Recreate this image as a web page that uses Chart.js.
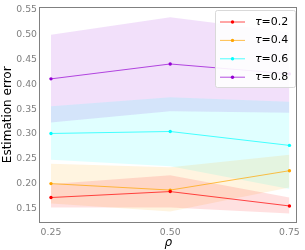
<!DOCTYPE html>
<html>
<head>
<meta charset="utf-8">
<script src="https://cdn.jsdelivr.net/npm/chart.js@4.4.1/dist/chart.umd.min.js"></script>
<style>
  html, body { margin: 0; padding: 0; background: #fff; }
</style>
</head>
<body>
<canvas id="chart" width="305" height="250"></canvas>
<script>
// data
const rho = [0.25, 0.5, 0.75];
const xTicks = [0.25, 0.5, 0.75];
const yTicks = [0.15, 0.2, 0.25, 0.3, 0.35, 0.4, 0.45, 0.5, 0.55];
const tauLabels = ["0.2", "0.4", "0.6", "0.8"];

const err02 = [0.172, 0.184, 0.155];
const err04 = [0.200, 0.187, 0.226];
const err06 = [0.301, 0.305, 0.277];
const err08 = [0.411, 0.441, 0.421];

const lo02 = [0.152, 0.152, 0.140];
const hi02 = [0.199, 0.217, 0.172];
const lo04 = [0.160, 0.144, 0.192];
const hi04 = [0.240, 0.233, 0.258];
const lo06 = [0.248, 0.235, 0.189];
const hi06 = [0.356, 0.374, 0.365];
const lo08 = [0.323, 0.346, 0.343];
const hi08 = [0.500, 0.535, 0.505];

const colors = [[255, 0, 0], [255, 165, 0], [0, 255, 255], [148, 0, 211]];
const means = [err02, err04, err06, err08];
const lows = [lo02, lo04, lo06, lo08];
const highs = [hi02, hi04, hi06, hi08];

const rgba = (c, a) => `rgba(${c[0]},${c[1]},${c[2]},${a})`;
const pts = arr => arr.map((v, i) => ({ x: rho[i], y: v }));
const FONT = "'DejaVu Sans', sans-serif";

const datasets = [];
means.forEach((m, k) => {
  const c = colors[k];
  const upIdx = datasets.length;
  datasets.push({
    band: true, data: pts(highs[k]), borderWidth: 0, pointRadius: 0,
    backgroundColor: rgba(c, 0.12), fill: false, order: 2
  });
  datasets.push({
    band: true, data: pts(lows[k]), borderWidth: 0, pointRadius: 0,
    backgroundColor: rgba(c, 0.12), fill: { target: upIdx }, order: 2
  });
});
means.forEach((m, k) => {
  const c = colors[k];
  datasets.push({
    label: tauLabels[k], data: pts(m), borderColor: rgba(c, 0.7), borderWidth: 1,
    pointRadius: 1.7, pointBackgroundColor: rgba(c, 1), pointBorderWidth: 0,
    fill: false, order: 1
  });
});

const framePlugin = {
  id: "frameLegend",
  afterDraw(chart) {
    const { ctx, chartArea: a } = chart;
    ctx.save();
    ctx.strokeStyle = "#808080";
    ctx.lineWidth = 1;
    const x0 = Math.floor(a.left) + 0.5, x1 = Math.floor(a.right) - 0.5;
    const y0 = Math.floor(a.top) + 0.5, y1 = Math.floor(a.bottom) + 0.5;
    ctx.strokeRect(x0, y0, x1 - x0, y1 - y0);

    // legend box in the upper right
    const bx = 215.5, by = 10.5, bw = 80, bh = 77, r = 2;
    ctx.beginPath();
    ctx.moveTo(bx + r, by);
    ctx.arcTo(bx + bw, by, bx + bw, by + bh, r);
    ctx.arcTo(bx + bw, by + bh, bx, by + bh, r);
    ctx.arcTo(bx, by + bh, bx, by, r);
    ctx.arcTo(bx, by, bx + bw, by, r);
    ctx.closePath();
    ctx.fillStyle = "rgba(255,255,255,0.9)";
    ctx.fill();
    ctx.strokeStyle = "#d9d9d9";
    ctx.stroke();

    const lines = chart.data.datasets.filter(d => !d.band);
    lines.forEach((d, i) => {
      const y = 22 + i * 18.4;
      ctx.strokeStyle = d.borderColor;
      ctx.lineWidth = 1;
      ctx.beginPath();
      ctx.moveTo(220, y);
      ctx.lineTo(245, y);
      ctx.stroke();
      ctx.fillStyle = d.pointBackgroundColor;
      ctx.beginPath();
      ctx.arc(232.5, y, 1.7, 0, Math.PI * 2);
      ctx.fill();
      ctx.fillStyle = "#000";
      ctx.textBaseline = "middle";
      ctx.textAlign = "left";
      ctx.font = "italic 11px " + FONT;
      ctx.fillText("\u03c4", 255, y);
      const w = ctx.measureText("\u03c4").width;
      ctx.font = "11px " + FONT;
      ctx.fillText("=" + d.label, 255 + w, y);
    });
    ctx.restore();
  }
};

new Chart(document.getElementById("chart"), {
  type: "line",
  data: { datasets },
  options: {
    responsive: false,
    animation: false,
    devicePixelRatio: 1,
    layout: { padding: { left: 0, top: 5, right: 7, bottom: 0 } },
    plugins: { legend: { display: false }, tooltip: { enabled: false } },
    scales: {
      x: {
        type: "linear", min: 0.2249, max: 0.7667,
        grid: { display: false, drawTicks: false },
        border: { display: false },
        afterBuildTicks: s => { s.ticks = xTicks.map(v => ({ value: v })); },
        afterFit: s => { s.height = 28; },
        ticks: {
          padding: 5, color: "#808080", maxRotation: 0,
          font: { family: FONT, size: 9.3 },
          callback: v => Number(v).toFixed(2)
        },
        title: {
          display: true, text: "\u03c1", color: "#000",
          font: { family: FONT, size: 12, style: "italic" }, padding: 0
        }
      },
      y: {
        type: "linear", min: 0.1227, max: 0.5546,
        grid: { display: false, drawTicks: false },
        border: { display: false },
        afterBuildTicks: s => { s.ticks = yTicks.map(v => ({ value: v })); },
        afterFit: s => { s.width = 39; },
        ticks: {
          padding: 2, color: "#808080",
          font: { family: FONT, size: 9.3 },
          callback: v => Number(v).toFixed(2)
        },
        title: {
          display: true, text: "Estimation error", color: "#000",
          font: { family: FONT, size: 12 }, padding: { top: 1, bottom: 0 }
        }
      }
    }
  },
  plugins: [framePlugin]
});
</script>
</body>
</html>
